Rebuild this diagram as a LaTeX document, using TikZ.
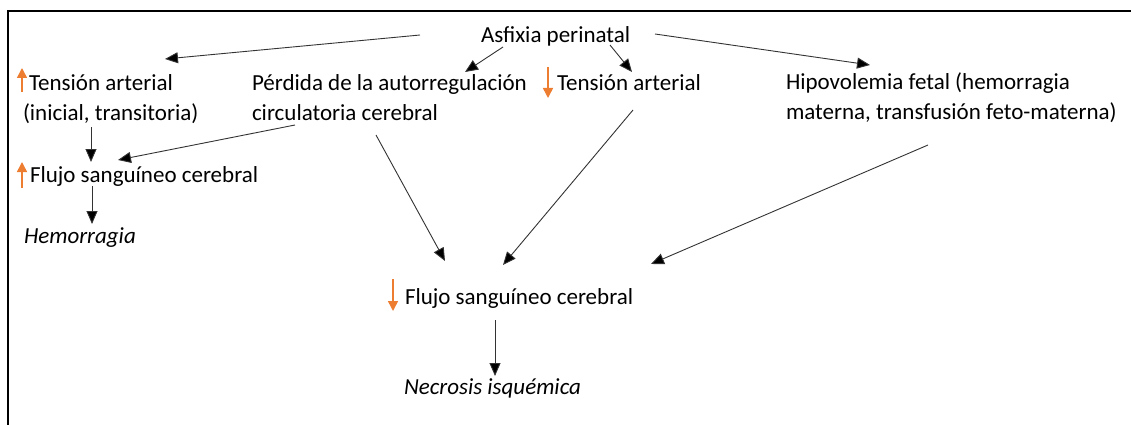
\documentclass[tikz,border=0pt]{standalone}
\usepackage{fontspec}
\setmainfont{Carlito}
\usetikzlibrary{arrows.meta,calc}
\definecolor{orng}{HTML}{ED7D31}
\tikzset{
  txt/.style={anchor=base west, inner sep=0pt, outer sep=0pt, align=left,
    font=\fontsize{23}{30}\selectfont},
  itx/.style={txt, font=\fontsize{23}{30}\selectfont\itshape},
  conn/.style={draw=black!80, line width=0.9pt, -{Triangle[length=13pt,width=11pt,fill=black]}},
  oarr/.style={draw=orng, line width=1.5pt, -{Triangle[length=10pt,width=10pt]}, orng},
  frame/.style={line width=2.4pt, black}
}
\begin{document}
\begin{tikzpicture}[x=1pt,y=-1pt]
\useasboundingbox (0,0) rectangle (1131,425);
\draw[frame] (8,425) -- (8,11) -- (1131,11);

% multi-line nodes: base anchor sits on the last line's baseline
\node[txt] (asf) at (481,43) {Asfixia perinatal};
\node[txt] (tens1) at (23,121) {\hspace*{6pt}Tensión arterial\\(inicial, transitoria)};
\node[txt] (perd) at (252,121) {Pérdida de la autorregulación\\circulatoria cerebral};
\node[txt] (tens2) at (557,91) {Tensión arterial};
\node[txt] (hipo) at (786,120) {Hipovolemia fetal (hemorragia\\materna, transfusión feto-materna)};
\node[txt] (flujo1) at (30,182) {Flujo sanguíneo cerebral};
\node[itx] (hem) at (24,243) {Hemorragia};
\node[txt] (flujo2) at (405,304) {Flujo sanguíneo cerebral};
\node[itx] (necr) at (404,394) {Necrosis isquémica};

% orange indicator arrows
\draw[oarr] ($(tens1.base west)+(-1,-29)$) -- ($(tens1.base west)+(-1,-53)$);
\draw[oarr] ($(flujo1.base west)+(-8,6)$) -- ($(flujo1.base west)+(-8,-20)$);
\draw[oarr] ($(tens2.base west)+(-9,-24)$) -- ($(tens2.base west)+(-9,7)$);
\draw[oarr] ($(flujo2.base west)+(-12,-25)$) -- ($(flujo2.base west)+(-12,7)$);

% connectors
\draw[conn] ($(asf.base west)+(-61,-8)$) -- ($(tens1.base west)+(142,-62)$);
\draw[conn] ($(asf.base west)+(22,4)$) -- ($(perd.base west)+(213,-49)$);
\draw[conn] ($(asf.base west)+(129,2)$) -- ($(tens2.base west)+(75,-19)$);
\draw[conn] ($(asf.base west)+(174,-9)$) -- ($(hipo.base west)+(84,-55)$);
\draw[conn] ($(tens1.base west)+(68,6)$) -- ($(flujo1.base west)+(61,-20)$);
\draw[conn] ($(perd.base west)+(43,4)$) -- ($(flujo1.base west)+(88,-22)$);
\draw[conn] ($(flujo1.base west)+(62,4)$) -- ($(hem.base west)+(68,-19)$);
\draw[conn] ($(perd.base west)+(124,14)$) -- ($(flujo2.base west)+(40,-43)$);
\draw[conn] ($(tens2.base west)+(76,19)$) -- ($(flujo2.base west)+(98,-39)$);
\draw[conn] ($(hipo.base west)+(142,25)$) -- ($(flujo2.base west)+(246,-40)$);
\draw[conn] ($(flujo2.base west)+(90,16)$) -- ($(necr.base west)+(91,-18)$);
\end{tikzpicture}
\end{document}
